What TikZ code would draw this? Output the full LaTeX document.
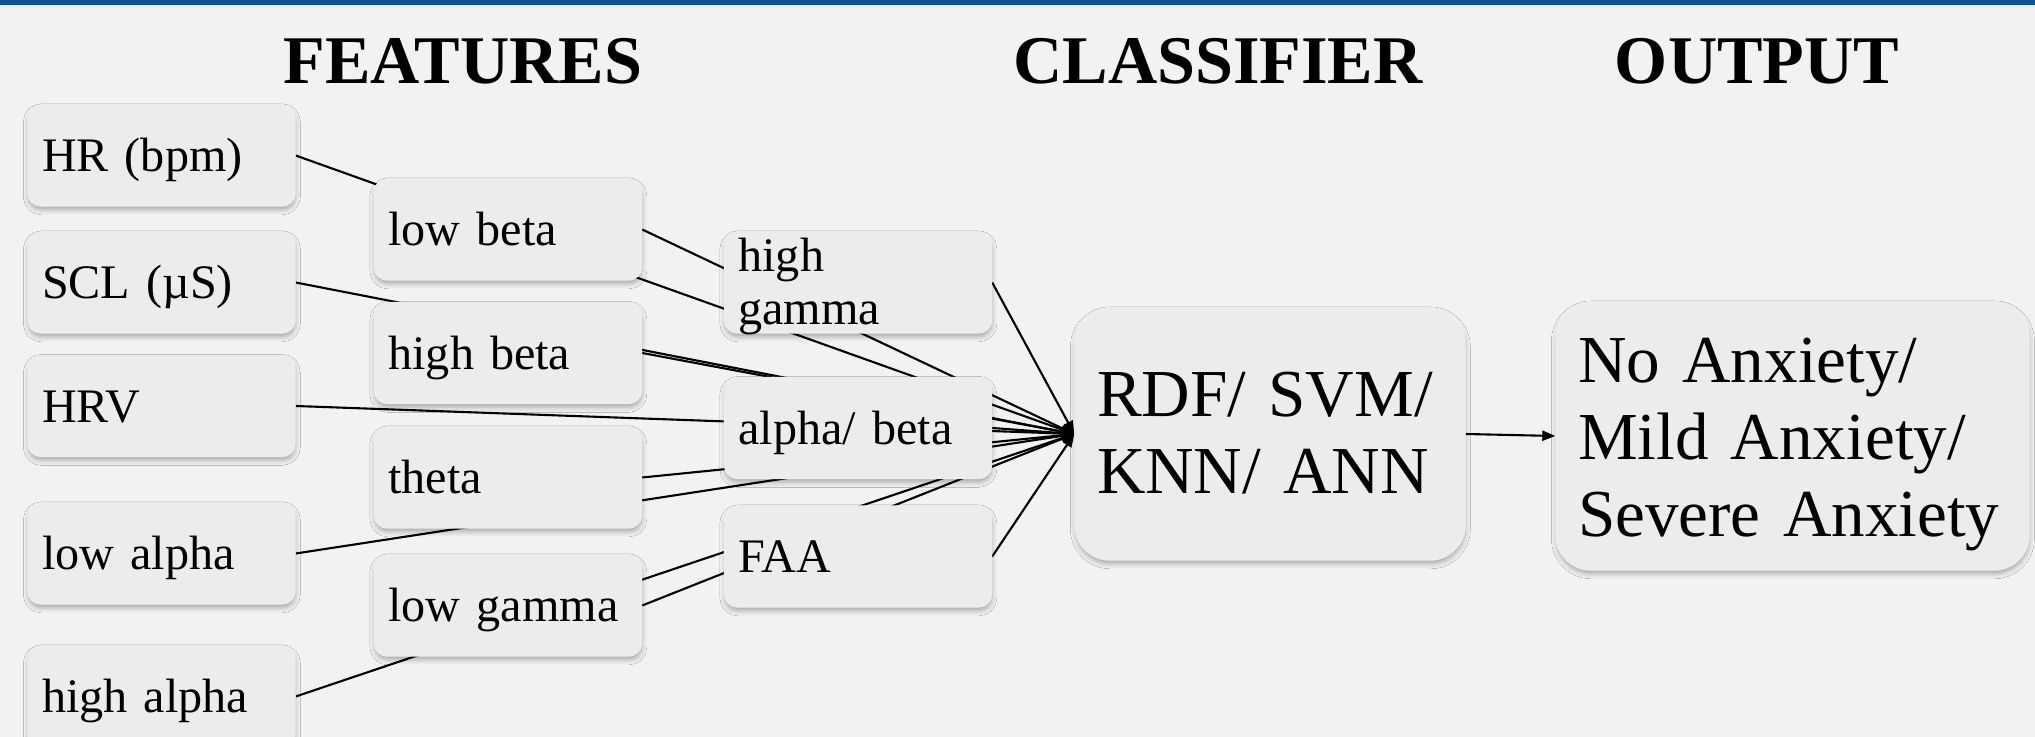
\documentclass[tikz,border=0pt]{standalone}
\usepackage{fontspec}
\setmainfont{Liberation Serif}[WordSpace=0.8]
\usetikzlibrary{arrows.meta, backgrounds, shadows.blur}
\definecolor{bgcolor}{RGB}{242,242,242}
\definecolor{boxcolor}{RGB}{236,236,236}
\definecolor{barcolor}{RGB}{14,82,152}

\begin{document}
\begin{tikzpicture}[
    feat/.style={rectangle, rounded corners=0.13cm, fill=boxcolor, draw=black!7, blur shadow={shadow xshift=0.1pt, shadow yshift=-1.1pt, shadow blur radius=1.4pt, shadow opacity=30}, minimum height=1.01cm, text width=2.39cm, text height=0.4cm, text depth=0.07cm, inner xsep=0.14cm, align=left, font=\fontsize{13.7}{15.1}\selectfont},
    bigbox/.style={feat, rounded corners=0.35cm, inner xsep=0.22cm, font=\fontsize{19.1}{21.9}\selectfont},
    title/.style={anchor=base, font=\fontsize{19.4}{22}\selectfont\bfseries},
    arrow/.style={-{Triangle[length=0.13cm, width=0.1cm]}, line width=0.6pt}
]
\useasboundingbox (0,0) rectangle (20.35,-7.37);

\node[title] (tfeat) at (4.63,-0.835) {FEATURES};
\node[title] (tcls) at (12.18,-0.835) {CLASSIFIER};
\node[title] (tout) at (17.57,-0.84) {OUTPUT};

\node[feat] (hr) at (1.615,-1.555) {HR~(bpm)};
\node[feat] (scl) at (1.615,-2.825) {SCL~(µS)};
\node[feat] (hrv) at (1.615,-4.06) {HRV};
\node[feat] (lalpha) at (1.615,-5.535) {low~alpha};
\node[feat] (halpha) at (1.615,-6.965) {high~alpha};
\node[feat] (lbeta) at (5.08,-2.295) {low~beta};
\node[feat] (hbeta) at (5.08,-3.53) {high~beta};
\node[feat] (theta) at (5.08,-4.775) {theta};
\node[feat] (lgamma) at (5.08,-6.055) {low~gamma};
\node[feat, inner ysep=0pt, text height=0.38cm, text depth=0.6cm] (hgamma) at (8.58,-2.825) {high\\gamma};
\node[feat] (ab) at (8.58,-4.28) {alpha/~beta};
\node[feat] (faa) at (8.58,-5.565) {FAA};
\node[bigbox, text width=3.46cm, minimum height=2.52cm, text height=0.5cm, text depth=0.84cm] (cls) at (12.70,-4.34) {RDF/~SVM/\\KNN/~ANN};
\node[bigbox, text width=4.29cm, minimum height=2.68cm, text height=0.5cm, text depth=1.56cm] (out) at (17.925,-4.36) {No~Anxiety/\\Mild~Anxiety/\\Severe~Anxiety};

\begin{scope}[on background layer]
\fill[bgcolor] (0,0) rectangle (20.35,-7.37);
\fill[barcolor] (0,0) rectangle (20.35,-0.05);
\draw[arrow] (hr.east) -- (cls.west);
\draw[arrow] (scl.east) -- (cls.west);
\draw[arrow] (hrv.east) -- (cls.west);
\draw[arrow] (lalpha.east) -- (cls.west);
\draw[arrow] (halpha.east) -- (cls.west);
\draw[arrow] (lbeta.east) -- (cls.west);
\draw[arrow] (hbeta.east) -- (cls.west);
\draw[arrow] (theta.east) -- (cls.west);
\draw[arrow] (lgamma.east) -- (cls.west);
\draw[arrow] (hgamma.east) -- (cls.west);
\draw[arrow] (ab.east) -- (cls.west);
\draw[arrow] (faa.east) -- (cls.west);
\draw[arrow] (cls.east) -- (out.west);
\end{scope}
\end{tikzpicture}
\end{document}
